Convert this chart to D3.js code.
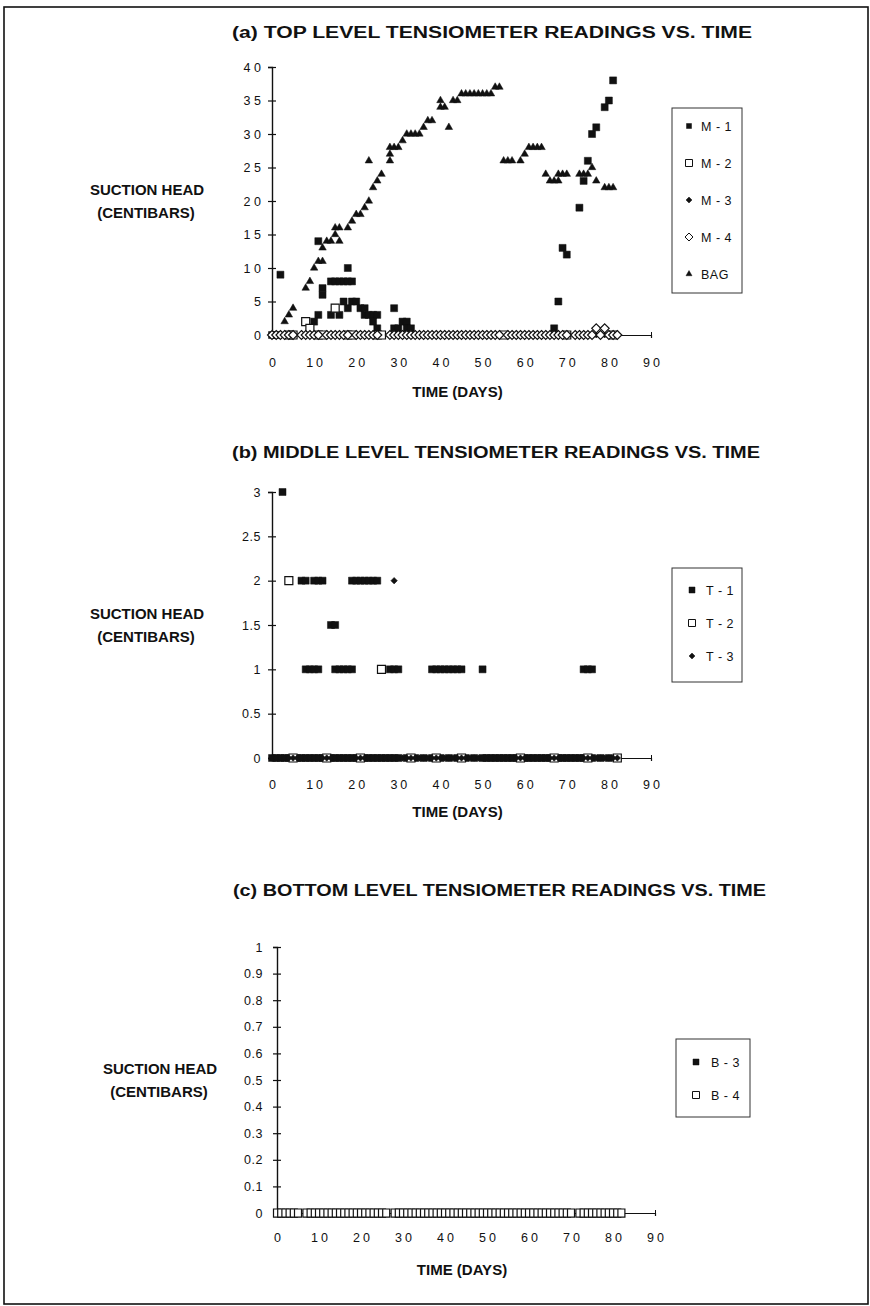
<!DOCTYPE html>
<html>
<head>
<meta charset="utf-8">
<script src="https://cdn.jsdelivr.net/npm/d3@7"></script>
<style>
  body { margin: 0; background: #fff; }
  text { font-family: "Liberation Sans", Arial, sans-serif; fill: #111; }
</style>
</head>
<body>
<div id="chart"></div>
<script>
// ---------- data ----------
const xTickValues = [0, 10, 20, 30, 40, 50, 60, 70, 80, 90];
const yTicksTop = [0, 5, 10, 15, 20, 25, 30, 35, 40];
const yTicksMiddle = [0, 0.5, 1, 1.5, 2, 2.5, 3];
const yTicksBottom = [0, 0.1, 0.2, 0.3, 0.4, 0.5, 0.6, 0.7, 0.8, 0.9, 1];

// (a) top level, [day, centibars]
const m1Points = [
  [0, 0], [1, 0], [2, 9], [10, 2], [11, 14], [11, 3], [12, 7], [12, 6],
  [14, 8], [15, 8], [16, 8], [17, 8], [18, 8], [19, 8], [18, 10],
  [14, 3], [15, 4], [16, 3], [17, 5], [18, 4], [19, 5], [20, 5], [21, 4], [22, 3], [22, 4],
  [23, 3], [24, 2], [24, 3], [25, 3], [25, 1],
  [29, 4], [29, 1], [30, 1], [31, 2], [32, 2], [32, 1], [33, 1],
  [67, 1], [68, 5], [69, 13], [70, 12], [73, 19], [74, 23], [75, 26], [76, 30], [77, 31],
  [79, 34], [80, 35], [81, 38]
];
const m2Points = [[8, 2], [9, 1], [15, 4]];
const m2ZeroDays = [4, 5, 11, 12, 18, 19, 25, 26, 55, 70, 81];
const m3ZeroDays = [
  0, 1, 2, 3, 4, 5, 7, 8, 9, 10, 11, 13, 14, 15, 16, 17, 18, 20, 21, 22, 23, 24, 25,
  28, 29, 30, 31, 32, 33, 34, 35, 36, 37, 38, 39, 40, 41, 42, 43, 44, 45, 46, 47, 48, 49, 50,
  51, 52, 53, 54, 56, 57, 58, 59, 60, 61, 62, 63, 64, 65, 66, 67, 68, 69, 70,
  72, 73, 74, 75, 76, 77, 78, 79, 80, 81, 82
];
const m4Points = [[77, 1], [79, 1]];
const m4ZeroDays = [
  0, 1, 2, 3, 4, 5, 7, 8, 9, 10, 11, 13, 14, 15, 16, 17, 18, 20, 21, 22, 23, 24, 25,
  28, 29, 30, 31, 32, 33, 34, 35, 36, 37, 38, 39, 40, 41, 42, 43, 44, 45, 46, 47, 48, 49, 50,
  51, 52, 53, 54, 56, 57, 58, 59, 60, 61, 62, 63, 64, 65, 66, 67, 68, 69, 70,
  72, 73, 74, 75, 76, 78, 80, 81, 82
];
const bagPoints = [
  [3, 2], [4, 3], [5, 4], [8, 7], [9, 8], [10, 10], [11, 11], [12, 11], [12, 13], [13, 14],
  [14, 14], [15, 15], [16, 14], [15, 16], [16, 16], [18, 16], [19, 17], [20, 18], [21, 18],
  [22, 19], [23, 20], [23, 26], [24, 22], [25, 23], [26, 24], [28, 26], [28, 27], [28, 28],
  [29, 28], [30, 28], [31, 29], [32, 30], [33, 30], [34, 30], [35, 30], [36, 31], [37, 32],
  [38, 32], [40, 34], [40, 35], [41, 34], [42, 31], [43, 35], [44, 35], [45, 36], [46, 36],
  [47, 36], [48, 36], [49, 36], [50, 36], [51, 36], [52, 36], [53, 37], [54, 37],
  [55, 26], [56, 26], [57, 26], [59, 26], [60, 27], [61, 28], [62, 28], [63, 28], [64, 28],
  [65, 24], [66, 23], [67, 23], [68, 23], [68, 24], [69, 24], [70, 24],
  [73, 24], [74, 24], [75, 24], [76, 25], [77, 23], [79, 22], [80, 22], [81, 22]
];

// (b) middle level
const t1Points = [
  [2.5, 3], [7, 2], [8, 2], [10, 2], [11, 2], [12, 2],
  [19, 2], [20, 2], [21, 2], [22, 2], [23, 2], [24, 2], [25, 2],
  [14, 1.5], [15, 1.5],
  [8, 1], [9, 1], [10, 1], [11, 1], [15, 1], [16, 1], [17, 1], [18, 1], [19, 1],
  [28, 1], [29, 1], [30, 1], [38, 1], [39, 1], [40, 1], [41, 1], [42, 1], [43, 1], [44, 1],
  [45, 1], [50, 1], [74, 1], [75, 1], [76, 1]
];
const t1ZeroDays = [
  0, 1, 2, 3, 4, 5, 6, 7, 8, 9, 10, 11, 12, 13, 14, 15, 16, 17, 18, 19, 20, 21, 22, 23,
  24, 25, 26, 27, 28, 29, 30, 32, 34, 36, 38, 40, 42, 44, 46, 48, 50, 51, 52, 53, 54, 55, 56,
  57, 58, 59, 60, 61, 62, 63, 64, 65, 66, 67, 68, 69, 70, 71, 72, 73, 74, 76, 78, 80
];
const t2Points = [[4, 2], [26, 1]];
const t2ZeroDays = [5, 13, 21, 33, 39, 45, 59, 67, 75, 82];
const t3Points = [[29, 2]];
const t3ZeroDays = [
  0, 1, 2, 3, 4, 5, 6, 7, 8, 9, 10, 11, 12, 13, 14, 15, 16, 17, 18, 19, 20, 21, 22, 23, 24,
  25, 26, 27, 28, 29, 30, 31, 32, 33, 34, 35, 36, 37, 38, 39, 40, 41, 42, 43, 44, 45, 46, 47,
  48, 49, 50, 51, 52, 53, 54, 55, 56, 57, 58, 59, 60, 61, 62, 63, 64, 65, 66, 67, 68, 69, 70,
  71, 72, 73, 74, 75, 76, 77, 78, 79, 80, 81, 82
];

// (c) bottom level
const b3ZeroDays = [0, 1, 2];
const b4ZeroDays = [
  0, 1, 2, 3, 4, 5, 7, 8, 9, 10, 11, 12, 13, 14, 15, 16, 17, 18, 19, 20, 21, 22, 23, 24, 25, 26,
  28, 29, 30, 31, 32, 33, 34, 35, 36, 37, 38, 39, 40, 41, 42, 43, 44, 45, 46, 47, 48, 49, 50,
  51, 52, 53, 54, 55, 56, 57, 58, 59, 60, 61, 62, 63, 64, 65, 66, 67, 68, 69, 70,
  72, 73, 74, 75, 76, 77, 78, 79, 80, 81, 82
];

const zeros = days => days.map(d => [d, 0]);

// ---------- drawing ----------
const width = 870, height = 1306;
const svg = d3.select('#chart').append('svg')
  .attr('width', width).attr('height', height);

svg.append('rect').attr('x', 4).attr('y', 7).attr('width', 864).attr('height', 1297)
  .attr('fill', 'none').attr('stroke', '#111').attr('stroke-width', 1.6);

const diamondType = {
  draw(ctx, size) {
    const r = Math.sqrt(size / 2);
    ctx.moveTo(0, -r); ctx.lineTo(r, 0); ctx.lineTo(0, r); ctx.lineTo(-r, 0); ctx.closePath();
  }
};
const rectType = { // slightly tall open box
  draw(ctx, size) {
    const w = Math.sqrt(size) / 2, h = w * 1.15;
    ctx.moveTo(-w, -h); ctx.lineTo(w, -h); ctx.lineTo(w, h); ctx.lineTo(-w, h); ctx.closePath();
  }
};

function symbolPath(shape, w) {
  if (shape === 'square') return d3.symbol(d3.symbolSquare, w * w)();
  if (shape === 'box') return d3.symbol(rectType, w * w)();
  if (shape === 'triangle') return d3.symbol(d3.symbolTriangle, Math.sqrt(3) / 4 * w * w)();
  return d3.symbol(diamondType, w * w / 2)();
}

function drawMarks(g, pts, s, x, y) {
  g.append('g').selectAll('path').data(pts).join('path')
    .attr('transform', d => `translate(${x(d[0])},${y(d[1])})`)
    .attr('d', symbolPath(s.shape, s.size))
    .attr('fill', s.filled ? '#111' : '#fff')
    .attr('stroke', '#111')
    .attr('stroke-width', s.filled ? 0.5 : 1.2);
}

function drawPanel(p) {
  const x = d3.scaleLinear().domain([0, 90]).range(p.xRange);
  const y = d3.scaleLinear().domain(p.yDomain).range(p.yRange);
  const g = svg.append('g');

  g.append('text').attr('x', p.titleX[0]).attr('y', p.titleY)
    .attr('font-size', 16).attr('font-weight', 'bold')
    .attr('textLength', p.titleX[1] - p.titleX[0]).attr('lengthAdjust', 'spacingAndGlyphs')
    .text(p.title);

  const midY = (p.yRange[0] + p.yRange[1]) / 2;
  g.append('text').attr('x', p.yLabelX).attr('y', midY - 6)
    .attr('text-anchor', 'middle').attr('font-size', 15).attr('font-weight', 'bold')
    .text('SUCTION HEAD');
  g.append('text').attr('x', p.yLabelX - 1).attr('y', midY + 17)
    .attr('text-anchor', 'middle').attr('font-size', 15).attr('font-weight', 'bold')
    .text('(CENTIBARS)');

  // y axis
  const ya = g.append('g').attr('transform', `translate(${p.xRange[0]},0)`)
    .call(d3.axisLeft(y).tickValues(p.yTicks).tickSizeOuter(0).tickSize(4)
      .tickFormat(p.yFormat));
  ya.select('.domain').attr('stroke', '#111').attr('stroke-width', 1.4);
  ya.selectAll('.tick line').attr('x1', -4).attr('x2', 4).attr('stroke', '#111').attr('stroke-width', 1.2);
  ya.selectAll('.tick text').attr('x', -p.yLabelGap).attr('font-size', 12.5)
    .attr('letter-spacing', p.ySpacing).attr('fill', '#111')
    .attr('font-family', '"Liberation Sans", Arial, sans-serif');

  // x axis at y = 0
  const xa = g.append('g').attr('transform', `translate(0,${p.yRange[0]})`)
    .call(d3.axisBottom(x).tickValues(xTickValues).tickSizeOuter(0).tickSize(3)
      .tickFormat(d => String(d)));
  xa.select('.domain').attr('stroke', '#111').attr('stroke-width', 1.2);
  xa.selectAll('.tick line').attr('y1', -3).attr('y2', 3).attr('stroke', '#111');
  xa.selectAll('.tick text').attr('y', p.xLabelDy).attr('dy', null).attr('font-size', 12.5)
    .attr('letter-spacing', 3).attr('dx', 1.5).attr('fill', '#111')
    .attr('font-family', '"Liberation Sans", Arial, sans-serif');

  g.append('text').attr('x', (p.xRange[0] + p.xRange[1]) / 2 - 4)
    .attr('y', p.yRange[0] + p.xTitleDy)
    .attr('text-anchor', 'middle').attr('font-size', 15).attr('font-weight', 'bold')
    .text('TIME (DAYS)');

  // marks
  p.series.forEach(s => drawMarks(g, s.points, s, x, y));

  // legend
  const L = p.legend;
  g.append('rect').attr('x', L.x).attr('y', L.y).attr('width', L.w).attr('height', L.h)
    .attr('fill', '#fff').attr('stroke', '#333').attr('stroke-width', 1);
  p.series.forEach((s, i) => {
    const ly = L.y + L.first + i * L.step;
    g.append('path').attr('transform', `translate(${L.x + L.symDx},${ly})`)
      .attr('d', symbolPath(s.legendShape || s.shape, s.legendSize))
      .attr('fill', s.filled ? '#111' : '#fff').attr('stroke', '#111')
      .attr('stroke-width', s.filled ? 0.5 : 1);
    g.append('text').attr('x', L.x + L.textDx).attr('y', ly + 4.5)
      .attr('font-size', 12.5).attr('letter-spacing', 0.5)
      .text(s.name.replace('-', ' - '));
  });
}

const fmtSpaced = d => String(d).split('').join(' ');

drawPanel({
  title: '(a)  TOP LEVEL TENSIOMETER READINGS VS. TIME', titleX: [232, 752], titleY: 38,
  xRange: [272, 651], yRange: [335, 67], yDomain: [0, 40], yTicks: yTicksTop,
  yFormat: fmtSpaced, ySpacing: 0, yLabelGap: 11, yLabelX: 147,
  xLabelDy: 32, xTitleDy: 62,
  legend: { x: 672, y: 108, w: 70, h: 185, first: 18, step: 37, symDx: 17, textDx: 29 },
  series: [
    { name: 'M-1', shape: 'square', filled: true, size: 7, legendSize: 5, points: m1Points },
    { name: 'M-2', shape: 'square', filled: false, size: 8, legendSize: 7, points: m2Points.concat(zeros(m2ZeroDays)) },
    { name: 'M-3', shape: 'diamond', filled: true, size: 6, legendSize: 6, points: zeros(m3ZeroDays) },
    { name: 'M-4', shape: 'diamond', filled: false, size: 9, legendSize: 8, points: m4Points.concat(zeros(m4ZeroDays)) },
    { name: 'BAG', shape: 'triangle', filled: true, size: 7.5, legendSize: 6, points: bagPoints }
  ]
});

drawPanel({
  title: '(b)  MIDDLE LEVEL TENSIOMETER READINGS VS. TIME', titleX: [232, 760], titleY: 458,
  xRange: [272, 651], yRange: [758, 492], yDomain: [0, 3], yTicks: yTicksMiddle,
  yFormat: d => String(d), ySpacing: 0.5, yLabelGap: 11, yLabelX: 147,
  xLabelDy: 31, xTitleDy: 59,
  legend: { x: 672, y: 568, w: 70, h: 114, first: 22, step: 33, symDx: 20, textDx: 34 },
  series: [
    { name: 'T-1', shape: 'square', filled: true, size: 7, legendSize: 6, points: t1Points.concat(zeros(t1ZeroDays)) },
    { name: 'T-2', shape: 'square', filled: false, size: 8, legendSize: 7, points: t2Points.concat(zeros(t2ZeroDays)) },
    { name: 'T-3', shape: 'diamond', filled: true, size: 6.5, legendSize: 6, points: t3Points.concat(zeros(t3ZeroDays)) }
  ]
});

drawPanel({
  title: '(c)  BOTTOM LEVEL TENSIOMETER READINGS VS. TIME', titleX: [233, 766], titleY: 896,
  xRange: [277, 655], yRange: [1213, 947], yDomain: [0, 1], yTicks: yTicksBottom,
  yFormat: d => String(d), ySpacing: 0.5, yLabelGap: 14, yLabelX: 160,
  xLabelDy: 29, xTitleDy: 62,
  legend: { x: 676, y: 1039, w: 74, h: 78, first: 23, step: 33, symDx: 20, textDx: 35 },
  series: [
    { name: 'B-3', shape: 'square', filled: true, size: 7, legendSize: 6, points: zeros(b3ZeroDays) },
    { name: 'B-4', shape: 'box', filled: false, size: 7, legendSize: 7, legendShape: 'square', points: zeros(b4ZeroDays) }
  ]
});
</script>
</body>
</html>
